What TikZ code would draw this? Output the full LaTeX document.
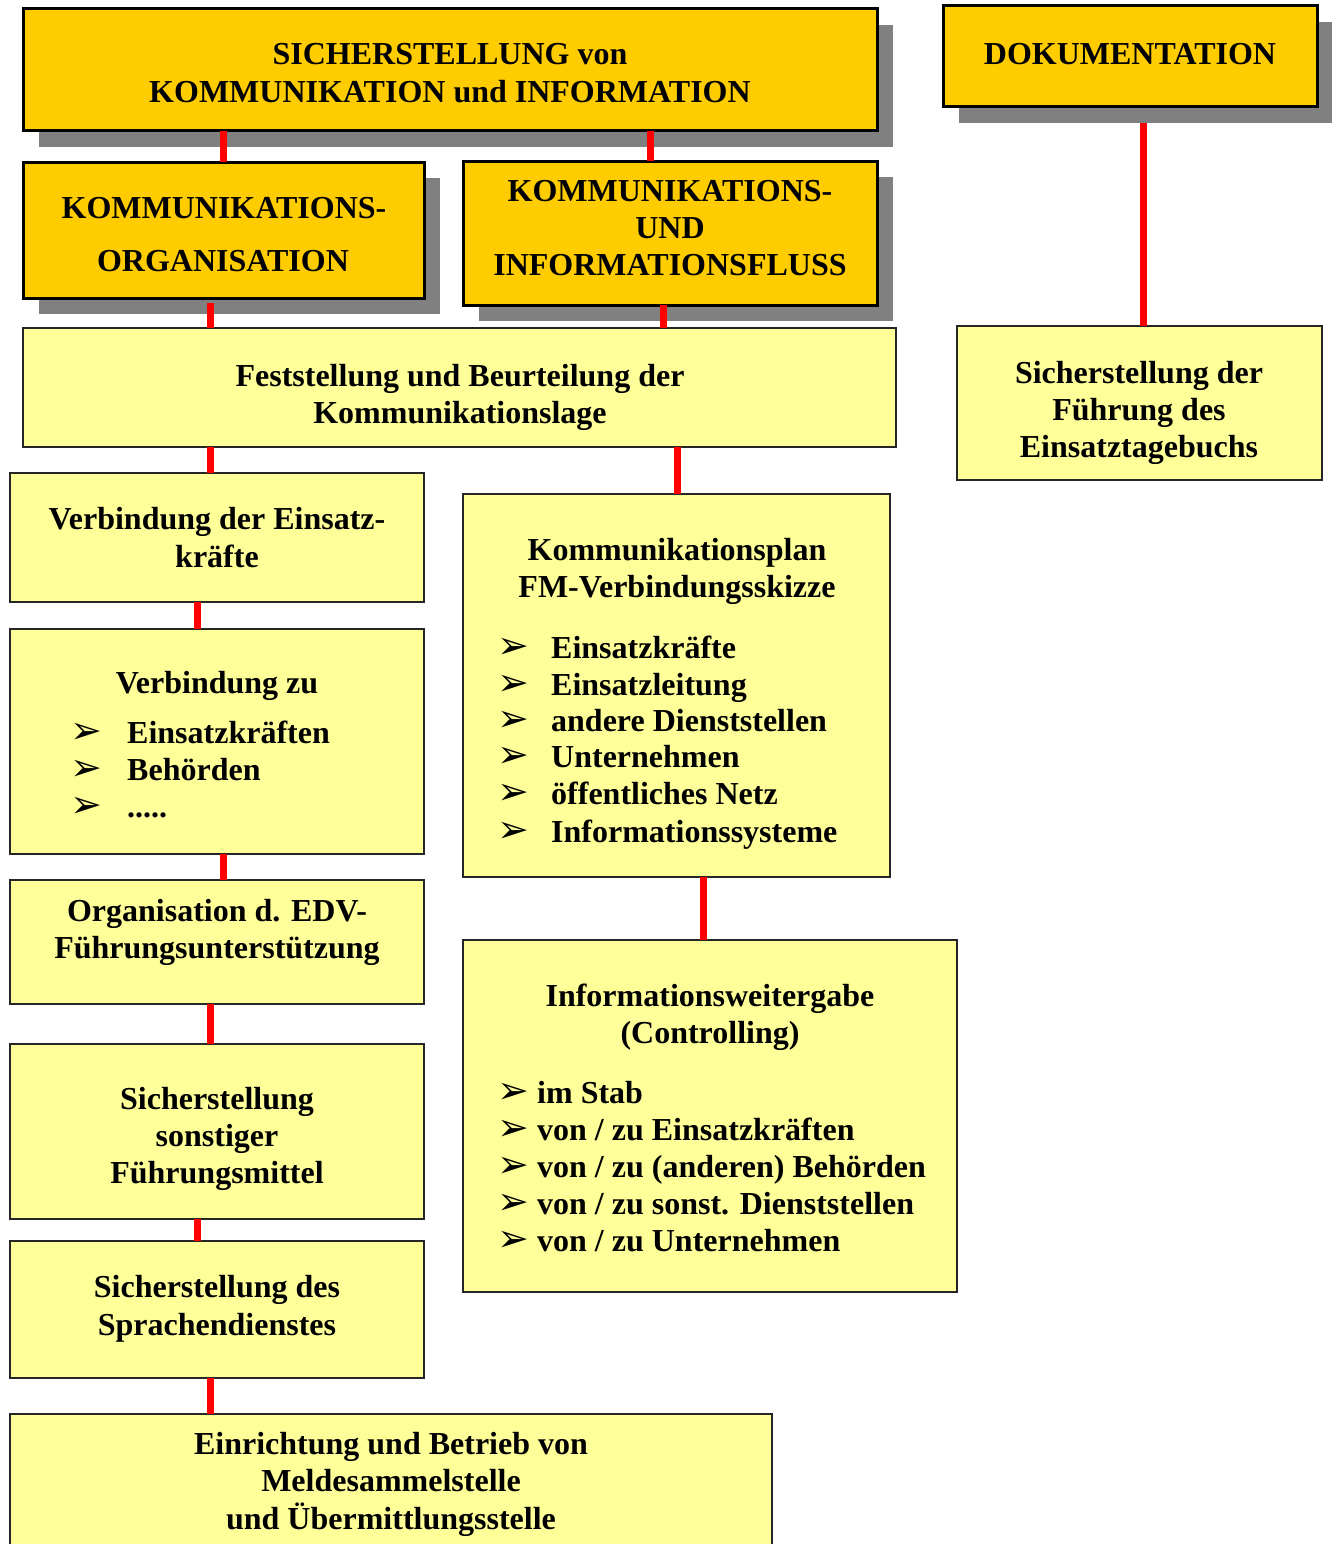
\documentclass[tikz,border=0pt]{standalone}
\usepackage{fontspec}
\setmainfont{Liberation Serif}
\newfontfamily\dingfont{DejaVu Sans}
\usetikzlibrary{calc,shadows}
\definecolor{orangebox}{HTML}{FFCC00}
\definecolor{yellowbox}{HTML}{FFFF99}
\definecolor{shadowgray}{HTML}{808080}
\definecolor{conred}{HTML}{FF0000}
\tikzset{
 headbox/.style={draw=black, line width=3pt, fill=orangebox, inner sep=0pt, outer sep=0pt, anchor=north west,
   drop shadow={shadow xshift=16pt, shadow yshift=-16pt, fill=shadowgray, opacity=1}},
 subbox/.style={draw=black!85, line width=2pt, fill=yellowbox, inner sep=0pt, outer sep=0pt, anchor=north west},
 txt/.style={inner sep=0pt, anchor=base, font=\bfseries\fontsize{32}{37}\selectfont},
 ltxt/.style={txt, anchor=base west},
 bul/.style={inner sep=0pt, anchor=base west, font=\dingfont\fontsize{38}{38}\selectfont},
 conn/.style={draw=conred, line width=7pt},
}
\newcommand\mybox[6]{\node[#1, minimum width={(#4-#2)*1pt}, minimum height={(#5-#3)*1pt}] (#6) at (#2,#3) {};}
\begin{document}
\begin{tikzpicture}[x=1pt,y=-1pt]
\path[use as bounding box, clip] (0,0) rectangle (1332,1544);
% boxes
\mybox{headbox}{23}{9}{877}{131}{top}
\mybox{headbox}{23}{162}{424}{298}{ko}
\mybox{headbox}{463}{161}{877}{305}{kui}
\mybox{headbox}{943}{6}{1317}{107}{dok}
\mybox{subbox}{23}{328}{896}{447}{fest}
\mybox{subbox}{957}{326}{1322}{480}{fuehr}
\mybox{subbox}{10}{473}{424}{602}{vek}
\mybox{subbox}{463}{494}{890}{877}{kplan}
\mybox{subbox}{10}{629}{424}{854}{vzu}
\mybox{subbox}{10}{880}{424}{1004}{edv}
\mybox{subbox}{463}{940}{957}{1292}{info}
\mybox{subbox}{10}{1044}{424}{1219}{sonst}
\mybox{subbox}{10}{1241}{424}{1378}{sprach}
\mybox{subbox}{10}{1414}{772}{1580}{einr}
% connectors
\coordinate (dokshadow) at ($(dok.south)+(0,16)$);
\coordinate (koshadow) at ($(ko.south)+(0,5)$);
\draw[conn] (top.south -| 223,0) -- (ko.north -| 223,0);
\draw[conn] (top.south -| 650,0) -- (kui.north -| 650,0);
\draw[conn] (dokshadow -| 1143,0) -- (fuehr.north -| 1143,0);
\draw[conn] (koshadow -| 210,0) -- (fest.north -| 210,0);
\draw[conn] (kui.south -| 663,0) -- (fest.north -| 663,0);
\draw[conn] (fest.south -| 210,0) -- (vek.north -| 210,0);
\draw[conn] (fest.south -| 677,0) -- (kplan.north -| 677,0);
\draw[conn] (vek.south -| 197,0) -- (vzu.north -| 197,0);
\draw[conn] (vzu.south -| 223,0) -- (edv.north -| 223,0);
\draw[conn] (kplan.south -| 703,0) -- (info.north -| 703,0);
\draw[conn] (edv.south -| 210,0) -- (sonst.north -| 210,0);
\draw[conn] (sonst.south -| 197,0) -- (sprach.north -| 197,0);
\draw[conn] (sprach.south -| 210,0) -- (einr.north -| 210,0);
% texts: header boxes
\node[txt] (t1a) at (450,64.5) {SICHERSTELLUNG von};
\node[txt] (t1b) at (450,102.5) {KOMMUNIKATION und INFORMATION};
\node[txt] (t2a) at (224,218.5) {KOMMUNIKATIONS-};
\node[txt] (t2b) at (223,271.5) {ORGANISATION};
\node[txt] (t3a) at (670,201.5) {KOMMUNIKATIONS-};
\node[txt] (t3b) at (670,238.5) {UND};
\node[txt] (t3c) at (670,275.5) {INFORMATIONSFLUSS};
\node[txt] (t4a) at (1130,64.5) {DOKUMENTATION};
% Feststellung
\node[txt] (t5a) at (460,386) {Feststellung und Beurteilung der};
\node[txt] (t5b) at (460,423) {Kommunikationslage};
% Fuehrung
\node[txt] (t6a) at (1139,383) {Sicherstellung der};
\node[txt] (t6b) at (1139,420) {Führung des};
\node[txt] (t6c) at (1139,457) {Einsatztagebuchs};
% Verbindung der Einsatzkraefte
\node[txt] (t7a) at (217,529) {Verbindung der Einsatz-};
\node[txt] (t7b) at (217,567) {kräfte};
% Kommunikationsplan
\node[txt] (t8a) at (677,560) {Kommunikationsplan};
\node[txt] (t8b) at (677,597) {FM-Verbindungsskizze};
\foreach \yy/\itm [count=\i] in {658/{Einsatzkräfte}, 695/{Einsatzleitung}, 731/{andere Dienststellen}, 767/{Unternehmen}, 804/{öffentliches Netz}, 842/{Informationssysteme}}{
  \node[bul] (b8\i) at (497,\yy) {➢};
  \node[ltxt] (t8\i) at (551,\yy) {\itm};
}
% Verbindung zu
\node[txt] (t9a) at (217,693) {Verbindung zu};
\foreach \yy/\itm [count=\i] in {743/{Einsatzkräften}, 780/{Behörden}, 817/{{.....}}}{
  \node[bul] (b9\i) at (70,\yy) {➢};
  \node[ltxt] (t9\i) at (127,\yy) {\itm};
}
% Organisation EDV
\node[txt] (t10a) at (217,921) {Organisation d. EDV-};
\node[txt] (t10b) at (217,958) {Führungsunterstützung};
% Informationsweitergabe
\node[txt] (t11a) at (710,1006) {Informationsweitergabe};
\node[txt] (t11b) at (710,1043) {(Controlling)};
\foreach \yy/\itm [count=\i] in {1103/{im Stab}, 1140/{von / zu Einsatzkräften}, 1177/{von / zu (anderen) Behörden}, 1214/{von / zu sonst. Dienststellen}, 1251/{von / zu Unternehmen}}{
  \node[bul] (b11\i) at (497,\yy) {➢};
  \node[ltxt] (t11\i) at (537,\yy) {\itm};
}
% Sicherstellung sonstiger
\node[txt] (t12a) at (217,1109) {Sicherstellung};
\node[txt] (t12b) at (217,1146) {sonstiger};
\node[txt] (t12c) at (217,1183) {Führungsmittel};
% Sprachendienst
\node[txt] (t13a) at (217,1297) {Sicherstellung des};
\node[txt] (t13b) at (217,1335) {Sprachendienstes};
% Einrichtung
\node[txt] (t14a) at (391,1454) {Einrichtung und Betrieb von};
\node[txt] (t14b) at (391,1491) {Meldesammelstelle};
\node[txt] (t14c) at (391,1529) {und Übermittlungsstelle};
\end{tikzpicture}
\end{document}
